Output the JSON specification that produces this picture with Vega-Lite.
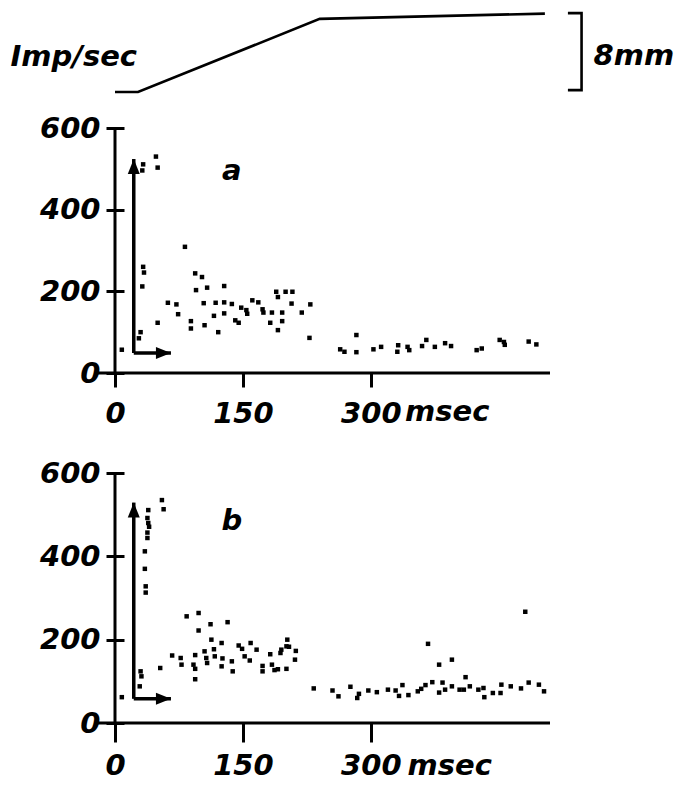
{
  "$schema": "https://vega.github.io/schema/vega-lite/v6.json",
  "background": "white",
  "autosize": {"type": "pad"},
  "padding": {"left": 10, "top": 7, "right": 5, "bottom": 5},
  "config": {
    "view": {"stroke": null},
    "axis": {
      "grid": false, "domain": false, "labelFont": "DejaVu Sans", "labelFontStyle": "italic", "labelFontWeight": "bold",
      "labelFontSize": 29, "labelColor": "black", "tickColor": "black", "tickWidth": 3,
      "title": null, "labelFlush": false, "labelOverlap": false, "labelBound": false
    },
    "text": {"font": "DejaVu Sans", "fontStyle": "italic", "fontWeight": "bold", "fontSize": 29, "color": "black"}
  },
  "datasets": {
    "trace": [
      {"i": 1, "ms": 0, "mm": 0},
      {"i": 2, "ms": 27, "mm": 0},
      {"i": 3, "ms": 240, "mm": 7.7},
      {"i": 4, "ms": 504, "mm": 8.25}
    ],
    "bracket": [
      {"i": 1, "ms": 531, "mm": 8.3},
      {"i": 2, "ms": 547, "mm": 8.3},
      {"i": 3, "ms": 547, "mm": 0.2},
      {"i": 4, "ms": 531, "mm": 0.2}
    ],
    "toplabels": [
      {"ms": 25.8, "mm": 3.7, "label": "Imp/sec", "side": "right"},
      {"ms": 561, "mm": 3.8, "label": "8mm", "side": "left"}
    ],
    "pts": [
      {"p": "a", "t": 32, "r": 496}, {"p": "a", "t": 33, "r": 511}, {"p": "a", "t": 50, "r": 503}, {"p": "a", "t": 48, "r": 530},
      {"p": "a", "t": 82, "r": 309}, {"p": "a", "t": 33, "r": 260}, {"p": "a", "t": 34, "r": 246}, {"p": "a", "t": 32, "r": 212},
      {"p": "a", "t": 30, "r": 100}, {"p": "a", "t": 28, "r": 85}, {"p": "a", "t": 8, "r": 57}, {"p": "a", "t": 50, "r": 123},
      {"p": "a", "t": 62, "r": 172}, {"p": "a", "t": 72, "r": 168}, {"p": "a", "t": 74, "r": 144}, {"p": "a", "t": 94, "r": 244},
      {"p": "a", "t": 102, "r": 235}, {"p": "a", "t": 95, "r": 203}, {"p": "a", "t": 108, "r": 209}, {"p": "a", "t": 128, "r": 213},
      {"p": "a", "t": 104, "r": 171}, {"p": "a", "t": 118, "r": 172}, {"p": "a", "t": 128, "r": 173}, {"p": "a", "t": 137, "r": 169},
      {"p": "a", "t": 116, "r": 140}, {"p": "a", "t": 128, "r": 146}, {"p": "a", "t": 89, "r": 127}, {"p": "a", "t": 89, "r": 109},
      {"p": "a", "t": 105, "r": 117}, {"p": "a", "t": 121, "r": 100}, {"p": "a", "t": 141, "r": 129}, {"p": "a", "t": 145, "r": 123},
      {"p": "a", "t": 148, "r": 160}, {"p": "a", "t": 154, "r": 154}, {"p": "a", "t": 155, "r": 145}, {"p": "a", "t": 161, "r": 178},
      {"p": "a", "t": 168, "r": 173}, {"p": "a", "t": 173, "r": 156}, {"p": "a", "t": 174, "r": 148}, {"p": "a", "t": 184, "r": 148},
      {"p": "a", "t": 189, "r": 199}, {"p": "a", "t": 191, "r": 186}, {"p": "a", "t": 200, "r": 199}, {"p": "a", "t": 208, "r": 199},
      {"p": "a", "t": 196, "r": 148}, {"p": "a", "t": 207, "r": 170}, {"p": "a", "t": 182, "r": 123}, {"p": "a", "t": 196, "r": 127},
      {"p": "a", "t": 191, "r": 105}, {"p": "a", "t": 219, "r": 148}, {"p": "a", "t": 229, "r": 168}, {"p": "a", "t": 228, "r": 86},
      {"p": "a", "t": 264, "r": 58}, {"p": "a", "t": 269, "r": 52}, {"p": "a", "t": 283, "r": 93}, {"p": "a", "t": 283, "r": 51},
      {"p": "a", "t": 303, "r": 58}, {"p": "a", "t": 312, "r": 64}, {"p": "a", "t": 332, "r": 68}, {"p": "a", "t": 331, "r": 52},
      {"p": "a", "t": 343, "r": 64}, {"p": "a", "t": 345, "r": 56}, {"p": "a", "t": 360, "r": 66}, {"p": "a", "t": 365, "r": 81},
      {"p": "a", "t": 375, "r": 64}, {"p": "a", "t": 387, "r": 73}, {"p": "a", "t": 394, "r": 66}, {"p": "a", "t": 424, "r": 56},
      {"p": "a", "t": 430, "r": 60}, {"p": "a", "t": 451, "r": 81}, {"p": "a", "t": 456, "r": 76}, {"p": "a", "t": 457, "r": 69},
      {"p": "a", "t": 485, "r": 77}, {"p": "a", "t": 494, "r": 70},
      {"p": "b", "t": 55, "r": 535}, {"p": "b", "t": 57, "r": 513}, {"p": "b", "t": 39, "r": 511}, {"p": "b", "t": 38, "r": 492},
      {"p": "b", "t": 39, "r": 480}, {"p": "b", "t": 40, "r": 471}, {"p": "b", "t": 38, "r": 457}, {"p": "b", "t": 38, "r": 444},
      {"p": "b", "t": 35, "r": 412}, {"p": "b", "t": 35, "r": 370}, {"p": "b", "t": 36, "r": 328}, {"p": "b", "t": 36, "r": 313},
      {"p": "b", "t": 30, "r": 124}, {"p": "b", "t": 31, "r": 112}, {"p": "b", "t": 29, "r": 88}, {"p": "b", "t": 8, "r": 62},
      {"p": "b", "t": 53, "r": 132}, {"p": "b", "t": 67, "r": 162}, {"p": "b", "t": 77, "r": 156}, {"p": "b", "t": 78, "r": 140},
      {"p": "b", "t": 92, "r": 140}, {"p": "b", "t": 94, "r": 130}, {"p": "b", "t": 94, "r": 105}, {"p": "b", "t": 94, "r": 163},
      {"p": "b", "t": 84, "r": 256}, {"p": "b", "t": 98, "r": 264}, {"p": "b", "t": 112, "r": 237}, {"p": "b", "t": 132, "r": 242},
      {"p": "b", "t": 98, "r": 222}, {"p": "b", "t": 113, "r": 200}, {"p": "b", "t": 125, "r": 192}, {"p": "b", "t": 105, "r": 172},
      {"p": "b", "t": 116, "r": 177}, {"p": "b", "t": 107, "r": 156}, {"p": "b", "t": 108, "r": 144}, {"p": "b", "t": 117, "r": 160},
      {"p": "b", "t": 126, "r": 155}, {"p": "b", "t": 125, "r": 136}, {"p": "b", "t": 137, "r": 148}, {"p": "b", "t": 138, "r": 124},
      {"p": "b", "t": 145, "r": 186}, {"p": "b", "t": 149, "r": 178}, {"p": "b", "t": 152, "r": 160}, {"p": "b", "t": 159, "r": 192},
      {"p": "b", "t": 158, "r": 150}, {"p": "b", "t": 166, "r": 176}, {"p": "b", "t": 173, "r": 137}, {"p": "b", "t": 173, "r": 124},
      {"p": "b", "t": 182, "r": 165}, {"p": "b", "t": 184, "r": 140}, {"p": "b", "t": 187, "r": 127}, {"p": "b", "t": 191, "r": 129},
      {"p": "b", "t": 201, "r": 130}, {"p": "b", "t": 194, "r": 168}, {"p": "b", "t": 195, "r": 176}, {"p": "b", "t": 201, "r": 184},
      {"p": "b", "t": 202, "r": 200}, {"p": "b", "t": 204, "r": 183}, {"p": "b", "t": 212, "r": 173}, {"p": "b", "t": 211, "r": 152},
      {"p": "b", "t": 233, "r": 83}, {"p": "b", "t": 255, "r": 78}, {"p": "b", "t": 262, "r": 64}, {"p": "b", "t": 276, "r": 87},
      {"p": "b", "t": 286, "r": 70}, {"p": "b", "t": 284, "r": 60}, {"p": "b", "t": 297, "r": 78}, {"p": "b", "t": 307, "r": 74},
      {"p": "b", "t": 320, "r": 80}, {"p": "b", "t": 329, "r": 78}, {"p": "b", "t": 333, "r": 65}, {"p": "b", "t": 337, "r": 91},
      {"p": "b", "t": 344, "r": 67}, {"p": "b", "t": 355, "r": 76}, {"p": "b", "t": 359, "r": 82}, {"p": "b", "t": 364, "r": 91},
      {"p": "b", "t": 367, "r": 190}, {"p": "b", "t": 372, "r": 98}, {"p": "b", "t": 380, "r": 140}, {"p": "b", "t": 395, "r": 152},
      {"p": "b", "t": 380, "r": 73}, {"p": "b", "t": 384, "r": 97}, {"p": "b", "t": 387, "r": 80}, {"p": "b", "t": 395, "r": 88},
      {"p": "b", "t": 411, "r": 110}, {"p": "b", "t": 404, "r": 80}, {"p": "b", "t": 409, "r": 80}, {"p": "b", "t": 416, "r": 88},
      {"p": "b", "t": 426, "r": 80}, {"p": "b", "t": 432, "r": 84}, {"p": "b", "t": 433, "r": 62}, {"p": "b", "t": 443, "r": 72},
      {"p": "b", "t": 452, "r": 72}, {"p": "b", "t": 453, "r": 92}, {"p": "b", "t": 464, "r": 88}, {"p": "b", "t": 476, "r": 83},
      {"p": "b", "t": 485, "r": 97}, {"p": "b", "t": 481, "r": 267}, {"p": "b", "t": 497, "r": 92}, {"p": "b", "t": 503, "r": 76}
    ],
    "arrows": [
      {"p": "a", "dir": "up", "t": 22, "r": 49, "t2": 22, "r2": 524},
      {"p": "a", "dir": "right", "t": 22, "r": 49, "t2": 65.6, "r2": 49},
      {"p": "b", "dir": "up", "t": 22, "r": 58, "t2": 22, "r2": 529},
      {"p": "b", "dir": "right", "t": 22, "r": 58, "t2": 65.6, "r2": 58}
    ],
    "axislines": [
      {"t": -22, "t2": 510, "r": 0, "r2": 0},
      {"t": 0, "t2": 0, "r": 0, "r2": 601}
    ],
    "labels": [
      {"p": "a", "t": 137, "r": 494, "label": "a"},
      {"p": "b", "t": 137, "r": 485, "label": "b"}
    ],
    "units": [
      {"p": "a", "t": 340, "r": -95, "label": "msec"},
      {"p": "b", "t": 343, "r": -102, "label": "msec"}
    ]
  },
  "bounds": "flush",
  "spacing": 36,
  "vconcat": [
    {
      "width": 435,
      "height": 80,
      "layer": [
        {
          "data": {"name": "trace"},
          "mark": {"type": "line", "color": "black", "strokeWidth": 2.6, "strokeJoin": "miter"},
          "encoding": {
            "x": {"field": "ms", "type": "quantitative", "scale": {"domain": [0, 510], "nice": false, "zero": false}, "axis": null},
            "y": {"field": "mm", "type": "quantitative", "scale": {"domain": [0, 8.42], "nice": false, "zero": false}, "axis": null},
            "order": {"field": "i"}
          }
        },
        {
          "data": {"name": "bracket"},
          "mark": {"type": "line", "color": "black", "strokeWidth": 2.6, "strokeJoin": "miter"},
          "encoding": {
            "x": {"field": "ms", "type": "quantitative"},
            "y": {"field": "mm", "type": "quantitative"},
            "order": {"field": "i"}
          }
        },
        {
          "data": {"name": "toplabels"},
          "transform": [{"filter": "datum.side == 'right'"}],
          "mark": {"type": "text", "align": "right", "baseline": "middle"},
          "encoding": {
            "x": {"field": "ms", "type": "quantitative"},
            "y": {"field": "mm", "type": "quantitative"},
            "text": {"field": "label"}
          }
        },
        {
          "data": {"name": "toplabels"},
          "transform": [{"filter": "datum.side == 'left'"}],
          "mark": {"type": "text", "align": "left", "baseline": "middle"},
          "encoding": {
            "x": {"field": "ms", "type": "quantitative"},
            "y": {"field": "mm", "type": "quantitative"},
            "text": {"field": "label"}
          }
        }
      ]
    },
    {
      "bounds": "flush",
      "spacing": 100,
      "vconcat": [
        {
          "width": 435,
          "height": 245,
          "layer": [
            {
              "data": {"name": "pts"},
              "transform": [{"filter": "datum.p == 'a'"}],
              "mark": {"type": "point", "shape": "square", "filled": true, "color": "black", "size": 20, "opacity": 1},
              "encoding": {
                "x": {"field": "t", "type": "quantitative", "scale": {"domain": [0, 510], "nice": false, "zero": false},
                      "axis": {"values": [0, 150, 300], "tickSize": 14, "labelPadding": 12}},
                "y": {"field": "r", "type": "quantitative", "scale": {"domain": [0, 600], "nice": false, "zero": false},
                      "axis": {"values": [0, 200, 400, 600], "offset": -9, "tickSize": 18, "labelPadding": 6}}
              }
            },
            {
              "data": {"name": "axislines"},
              "mark": {"type": "rule", "color": "black", "strokeWidth": 3},
              "encoding": {
                "x": {"field": "t", "type": "quantitative"}, "x2": {"field": "t2"},
                "y": {"field": "r", "type": "quantitative"}, "y2": {"field": "r2"}
              }
            },
            {
              "data": {"name": "arrows"},
              "transform": [{"filter": "datum.p == 'a'"}],
              "mark": {"type": "rule", "color": "black", "strokeWidth": 3.5, "opacity": 1},
              "encoding": {
                "x": {"field": "t", "type": "quantitative"}, "x2": {"field": "t2"},
                "y": {"field": "r", "type": "quantitative"}, "y2": {"field": "r2"}
              }
            },
            {
              "data": {"name": "arrows"},
              "transform": [{"filter": "datum.p == 'a' && datum.dir == 'up'"}],
              "mark": {"type": "point", "shape": "M0,0L-0.4,1L0.4,1Z", "filled": true, "color": "black", "size": 900, "opacity": 1},
              "encoding": {"x": {"field": "t2", "type": "quantitative"}, "y": {"field": "r2", "type": "quantitative"}}
            },
            {
              "data": {"name": "arrows"},
              "transform": [{"filter": "datum.p == 'a' && datum.dir == 'right'"}],
              "mark": {"type": "point", "shape": "M0,0L-1,-0.4L-1,0.4Z", "filled": true, "color": "black", "size": 900, "opacity": 1},
              "encoding": {"x": {"field": "t2", "type": "quantitative"}, "y": {"field": "r2", "type": "quantitative"}}
            },
            {
              "data": {"name": "labels"},
              "transform": [{"filter": "datum.p == 'a'"}],
              "mark": {"type": "text", "align": "center", "baseline": "middle"},
              "encoding": {"x": {"field": "t", "type": "quantitative"}, "y": {"field": "r", "type": "quantitative"}, "text": {"field": "label"}}
            },
            {
              "data": {"name": "units"},
              "transform": [{"filter": "datum.p == 'a'"}],
              "mark": {"type": "text", "align": "left", "baseline": "middle"},
              "encoding": {"x": {"field": "t", "type": "quantitative"}, "y": {"field": "r", "type": "quantitative"}, "text": {"field": "label"}}
            }
          ]
        },
        {
          "width": 435,
          "height": 250,
          "layer": [
            {
              "data": {"name": "pts"},
              "transform": [{"filter": "datum.p == 'b'"}],
              "mark": {"type": "point", "shape": "square", "filled": true, "color": "black", "size": 20, "opacity": 1},
              "encoding": {
                "x": {"field": "t", "type": "quantitative", "scale": {"domain": [0, 510], "nice": false, "zero": false},
                      "axis": {"values": [0, 150, 300], "tickSize": 19, "labelPadding": 9}},
                "y": {"field": "r", "type": "quantitative", "scale": {"domain": [0, 600], "nice": false, "zero": false},
                      "axis": {"values": [0, 200, 400, 600], "offset": -9, "tickSize": 18, "labelPadding": 6}}
              }
            },
            {
              "data": {"name": "axislines"},
              "mark": {"type": "rule", "color": "black", "strokeWidth": 3},
              "encoding": {
                "x": {"field": "t", "type": "quantitative"}, "x2": {"field": "t2"},
                "y": {"field": "r", "type": "quantitative"}, "y2": {"field": "r2"}
              }
            },
            {
              "data": {"name": "arrows"},
              "transform": [{"filter": "datum.p == 'b'"}],
              "mark": {"type": "rule", "color": "black", "strokeWidth": 3.5, "opacity": 1},
              "encoding": {
                "x": {"field": "t", "type": "quantitative"}, "x2": {"field": "t2"},
                "y": {"field": "r", "type": "quantitative"}, "y2": {"field": "r2"}
              }
            },
            {
              "data": {"name": "arrows"},
              "transform": [{"filter": "datum.p == 'b' && datum.dir == 'up'"}],
              "mark": {"type": "point", "shape": "M0,0L-0.4,1L0.4,1Z", "filled": true, "color": "black", "size": 900, "opacity": 1},
              "encoding": {"x": {"field": "t2", "type": "quantitative"}, "y": {"field": "r2", "type": "quantitative"}}
            },
            {
              "data": {"name": "arrows"},
              "transform": [{"filter": "datum.p == 'b' && datum.dir == 'right'"}],
              "mark": {"type": "point", "shape": "M0,0L-1,-0.4L-1,0.4Z", "filled": true, "color": "black", "size": 900, "opacity": 1},
              "encoding": {"x": {"field": "t2", "type": "quantitative"}, "y": {"field": "r2", "type": "quantitative"}}
            },
            {
              "data": {"name": "labels"},
              "transform": [{"filter": "datum.p == 'b'"}],
              "mark": {"type": "text", "align": "center", "baseline": "middle"},
              "encoding": {"x": {"field": "t", "type": "quantitative"}, "y": {"field": "r", "type": "quantitative"}, "text": {"field": "label"}}
            },
            {
              "data": {"name": "units"},
              "transform": [{"filter": "datum.p == 'b'"}],
              "mark": {"type": "text", "align": "left", "baseline": "middle"},
              "encoding": {"x": {"field": "t", "type": "quantitative"}, "y": {"field": "r", "type": "quantitative"}, "text": {"field": "label"}}
            }
          ]
        }
      ]
    }
  ]
}
